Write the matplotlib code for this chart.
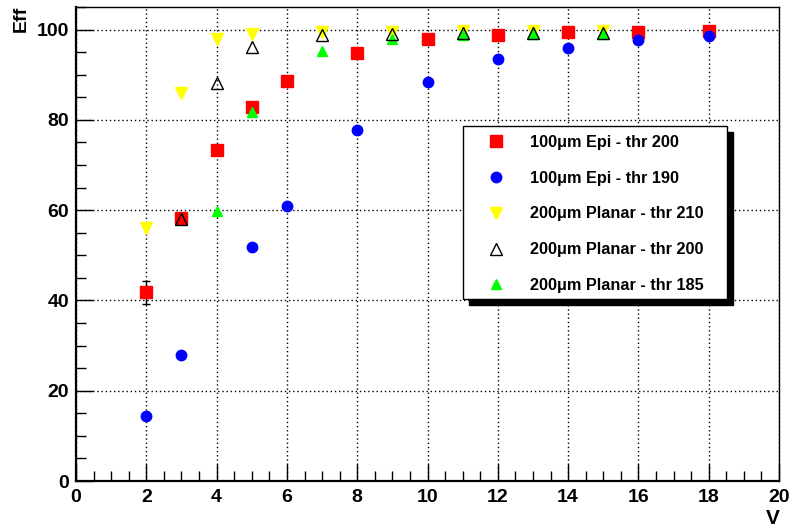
import matplotlib
matplotlib.use("Agg")
import matplotlib.pyplot as plt
from matplotlib.patches import Rectangle
from matplotlib.ticker import MultipleLocator

plt.rcParams['font.family'] = ['Liberation Sans', 'DejaVu Sans']
plt.rcParams['font.weight'] = 'bold'

# ---- data ----
epi200_v = [2, 3, 4, 5, 6, 8, 10, 12, 14, 16, 18]
epi200_eff = [41.8, 58.3, 73.3, 82.8, 88.6, 94.8, 97.9, 98.7, 99.5, 99.5, 99.6]
epi200_err = [2.6, 0.8, 0.6, 0.5, 0.4, 0.3, 0.2, 0.2, 0.1, 0.1, 0.1]

epi190_v = [2, 3, 5, 6, 8, 10, 12, 14, 16, 18]
epi190_eff = [14.4, 28.0, 51.8, 60.9, 77.7, 88.3, 93.5, 96.0, 97.7, 98.6]

pl210_v = [2, 3, 4, 5, 7, 9, 11, 13, 15]
pl210_eff = [56.1, 85.9, 97.9, 99.0, 99.4, 99.5, 99.6, 99.6, 99.6]

pl200_v = [3, 4, 5, 7, 9, 11, 13, 15]
pl200_eff = [58.0, 88.2, 96.2, 98.8, 99.1, 99.2, 99.2, 99.2]

pl185_v = [4, 5, 7, 9, 11, 13, 15]
pl185_eff = [59.7, 81.7, 95.2, 97.8, 98.9, 99.0, 99.0]

labels = ["100\u03bcm Epi - thr 200", "100\u03bcm Epi - thr 190",
          "200\u03bcm Planar - thr 210", "200\u03bcm Planar - thr 200",
          "200\u03bcm Planar - thr 185"]

fig = plt.figure(figsize=(7.92, 5.29), dpi=100)
ax = fig.add_axes([0.096, 0.0907, 0.8876, 0.8961])

ax.errorbar(epi200_v, epi200_eff, yerr=epi200_err, fmt='none', ecolor='black',
            elinewidth=1, capsize=3, zorder=3)
h1, = ax.plot(epi200_v, epi200_eff, 's', color='#ff0000', ms=8.5, mec='#ff0000', zorder=4, label=labels[0])
h2, = ax.plot(epi190_v, epi190_eff, 'o', color='#0000ff', ms=7.5, mec='#0000ff', zorder=4, label=labels[1])
h3, = ax.plot(pl210_v, pl210_eff, 'v', color='#ffff00', ms=8, mec='#ffff00', zorder=4, label=labels[2])
h4, = ax.plot(pl200_v, pl200_eff, '^', mfc='none', mec='black', mew=1, ms=8, zorder=5, label=labels[3])
h5, = ax.plot(pl185_v, pl185_eff, '^', color='#00ff00', mec='#00ff00', ms=7, zorder=4, label=labels[4])

ax.set_xlim(0, 20)
ax.set_ylim(0, 105)
ax.xaxis.set_major_locator(MultipleLocator(2))
ax.xaxis.set_minor_locator(MultipleLocator(0.5))
ax.yaxis.set_major_locator(MultipleLocator(20))
ax.yaxis.set_minor_locator(MultipleLocator(5))
ax.tick_params(which='both', direction='in', top=False, right=False, labelsize=14)
ax.tick_params(which='major', length=12, width=1)
ax.tick_params(which='minor', length=7, width=1)
ax.tick_params(axis='x', which='both', pad=6)
ax.tick_params(axis='y', which='both', pad=5)
for lab in ax.get_xticklabels() + ax.get_yticklabels():
    lab.set_fontweight('bold')

ax.grid(True, which='major', color='black', linestyle=(0, (1, 2)), linewidth=1)
ax.set_axisbelow(True)
for s in ax.spines.values():
    s.set_linewidth(1)
ax.spines['left'].set_linewidth(1.6)
ax.spines['bottom'].set_linewidth(1.6)

fig.text(0.027, 0.99, "Eff", rotation=90, ha='center', va='top', fontsize=14, fontweight='bold')
fig.text(0.976, 0.002, "V", ha='center', va='bottom', fontsize=15, fontweight='bold')

# legend box with ROOT-style shadow
x0, x1, y0, y1 = 0.5505, 0.926, 0.384, 0.749
ax.add_patch(Rectangle((x0 + 0.009, y0 - 0.012), x1 - x0, y1 - y0, transform=ax.transAxes,
                       facecolor='black', edgecolor='black', zorder=6))
ax.add_patch(Rectangle((x0, y0), x1 - x0, y1 - y0, transform=ax.transAxes,
                       facecolor='white', edgecolor='black', lw=1, zorder=7))
leg = ax.legend(handles=[h1, h2, h3, h4, h5], loc='upper left', bbox_to_anchor=(x0 + 0.02, y1 - 0.005),
                frameon=False, prop={'size': 11.7, 'weight': 'bold'}, labelspacing=1.28,
                handletextpad=1.35, handlelength=1.5, borderaxespad=0)
leg.set_zorder(8)

fig.savefig("out.png", dpi=100)
